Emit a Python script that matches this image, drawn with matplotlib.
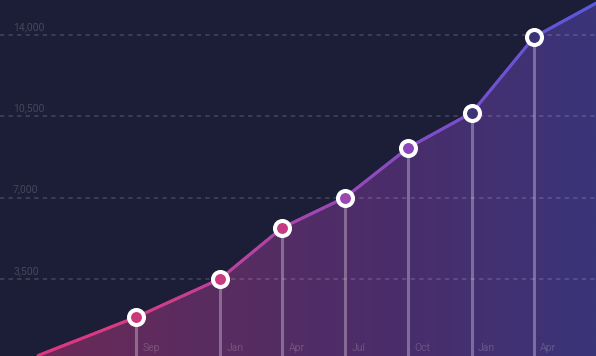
import numpy as np
import pandas as pd
import matplotlib
matplotlib.use('Agg')
import matplotlib.pyplot as plt
import matplotlib.dates as mdates
from matplotlib.collections import LineCollection
from matplotlib.colors import LinearSegmentedColormap
from matplotlib.transforms import blended_transform_factory

# dados do grafico
datas = ['2016-04-12', '2016-09-01', '2017-01-01', '2017-04-01', '2017-07-01',
         '2017-10-01', '2018-01-01', '2018-04-01', '2018-07-01']
valores = [200, 1850, 3500, 5700, 7000, 9150, 10650, 13900, 15380]
rotulos_x = ['Sep', 'Jan', 'Apr', 'Jul', 'Oct', 'Jan', 'Apr']
marcas_y = [3500, 7000, 10500, 14000]

# cores
fundo = '#1c1e37'
cmap_linha = LinearSegmentedColormap.from_list('linha', ['#e5347a', '#d33c86', '#a447ae', '#7b4ecb', '#5a58dc'])
cmap_area = LinearSegmentedColormap.from_list('area', ['#6e2a55', '#5a2c5f', '#4a2d6b', '#3a3479'])
cores_marcador = ['#ca3a7a', '#c93b7e', '#c43d84', '#9b47b0', '#8a46ba', '#3d3474', '#3b3474']

x = mdates.date2num(pd.to_datetime(datas))
px_dia = 398 / (x[7] - x[1])
x0 = x[1] - 136 / px_dia
x1 = x[7] + 62 / px_dia
y0, y1 = 180, 15500

fig = plt.figure(figsize=(5.96, 3.56), dpi=100)
fig.patch.set_facecolor(fundo)
ax = fig.add_axes([0, 0, 1, 1])
ax.set_facecolor(fundo)
ax.set_axis_off()

# area com gradiente horizontal
grad = np.linspace(0, 1, 256).reshape(1, -1)
im = ax.imshow(grad, cmap=cmap_area, extent=[x0, x1, y0, y1], aspect='auto',
               origin='lower', zorder=1, interpolation='bilinear')
area = ax.fill_between(x, valores, y0, color='none', lw=0)
im.set_clip_path(area.get_paths()[0], transform=ax.transData)

# linhas de grade tracejadas
for v in marcas_y:
    ax.axhline(v, color='white', alpha=0.14, lw=1.4, ls=(0, (2.2, 2.2)), zorder=3)

# linhas verticais ate os pontos
ax.vlines(x[1:8], y0, valores[1:8], color='white', alpha=0.3, lw=2.2, zorder=2)

# linha com gradiente
xs = np.concatenate([np.linspace(x[i], x[i + 1], 40, endpoint=False) for i in range(len(x) - 1)] + [[x[-1]]])
ys = np.interp(xs, x, valores)
pts = np.column_stack([xs, ys]).reshape(-1, 1, 2)
segs = np.concatenate([pts[:-1], pts[1:]], axis=1)
lc = LineCollection(segs, cmap=cmap_linha, norm=plt.Normalize(x0, x1), linewidth=2.2,
                    capstyle='round', zorder=4)
lc.set_array(xs[:-1])
ax.add_collection(lc)

# marcadores
for i in range(1, 8):
    ax.plot(x[i], valores[i], 'o', ms=10.8, mfc=cores_marcador[i - 1], mec='white',
            mew=2.9, zorder=5)

# rotulos
fonte = 'Roboto'
trans_y = blended_transform_factory(ax.transAxes, ax.transData)
for v in marcas_y:
    ax.annotate(f'{v:,}', (13 / 596, v), xycoords=trans_y, xytext=(0, 3.6),
                textcoords='offset points', va='baseline', ha='left',
                fontsize=7.5, color='white', alpha=0.18, family=fonte)

trans_x = blended_transform_factory(ax.transData, ax.transAxes)
for xi, rot in zip(x[1:8], rotulos_x):
    ax.annotate(rot, (xi, 0), xycoords=trans_x, xytext=(4.5, 3.6),
                textcoords='offset points', va='baseline', ha='left',
                fontsize=7.5, color='white', alpha=0.18, family=fonte)

ax.set_xlim(x0, x1)
ax.set_ylim(y0, y1)

fig.savefig('out.png', dpi=100, facecolor=fundo)
